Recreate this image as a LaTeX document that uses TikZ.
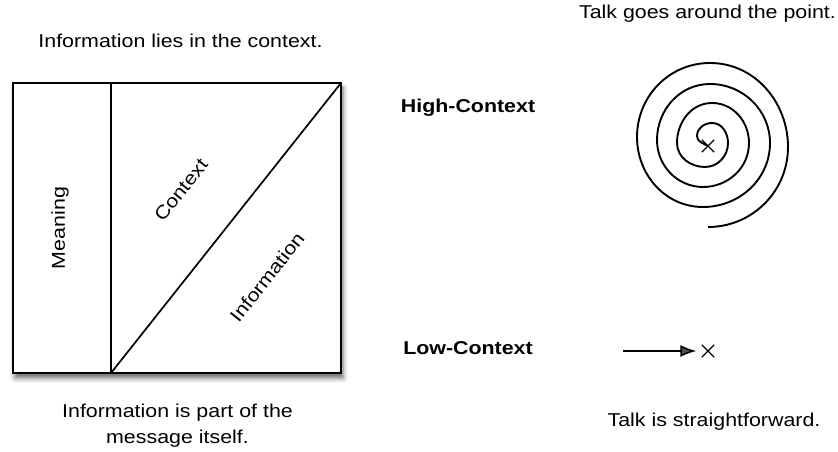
\documentclass[tikz,border=0pt]{standalone}
\usepackage{fontspec}
\setmainfont[FakeStretch=1.15]{Liberation Sans}
\usetikzlibrary{arrows.meta,shapes.misc,shadows.blur}

\begin{document}
\begin{tikzpicture}[x=1pt,y=1pt,
  lbl/.style={font=\fontsize{18.6}{26}\selectfont, inner sep=0pt, align=center},
  hdr/.style={font=\fontsize{18.6}{26}\selectfont\bfseries, inner sep=0pt},
  frame/.style={draw=black, line width=1.7pt},
  curve/.style={draw=black, line width=1.9pt},
  xmark/.style={cross out, draw=black, line width=1.3pt, minimum size=11pt, inner sep=0pt}]

\useasboundingbox (0,0) rectangle (838,452);

% ---- left panel: meaning = context + information ----
\coordinate (bl) at (13,79);
\coordinate (tr) at (341,369);
\coordinate (divb) at (111,79);
\coordinate (divt) at (111,369);
\path[frame, fill=white, blur shadow={shadow xshift=2pt, shadow yshift=-5pt, shadow blur radius=5pt, shadow opacity=60}]
  (bl) rectangle (tr);
\draw[frame] (divb) -- (divt);
\draw[frame] (divb) -- (tr);

\node[lbl, rotate=90] (meaning) at (60,224) {Meaning};
\node[lbl, rotate=51.6] (context) at (181,262) {Context};
\node[lbl, rotate=51.6] (information) at (267,175) {Information};

\node[lbl, anchor=base] (toplbl) at (180.5,404) {Information lies in the context.};
\node[lbl, anchor=north] (botlbl) at (177.5,48) {Information is part of the\\message itself.};

% ---- middle headings ----
\node[hdr, anchor=base] (high) at (468,339) {High-Context};
\node[hdr, anchor=base] (low) at (468,97) {Low-Context};

% ---- high context: spiral around the point ----
\node[lbl, anchor=base] (spirallbl) at (707.5,433) {Talk goes around the point.};
\node[xmark] (hix) at (708,306) {};
\draw[curve] (hix.center) to[out=150,in=270] (697,316)
  to[out=90,in=180] (712,329) to[out=0,in=90] (728,309)
  to[out=270,in=0] (705,285) to[out=180,in=270] (677,309)
  to[out=90,in=180] (712,349) to[out=0,in=90] (749,309)
  to[out=270,in=0] (703,265) to[out=180,in=270] (657,312)
  to[out=90,in=180] (710,368) to[out=0,in=90] (770,309)
  to[out=270,in=0] (703,245) to[out=180,in=270] (637,315)
  to[out=90,in=180] (710,389) to[out=0,in=90] (788,305)
  to[out=270,in=0] (708,225);

% ---- low context: straight to the point ----
\node[lbl, anchor=base] (straightlbl) at (714,25) {Talk is straightforward.};
\node[xmark] (lowx) at (708,101) {};
\coordinate (arrowstart) at (623,101);
\draw[line width=1.5pt, -{Latex[length=16pt,width=12pt]}, shorten >=5.5pt] (arrowstart) -- (lowx.west);

\end{tikzpicture}
\end{document}
